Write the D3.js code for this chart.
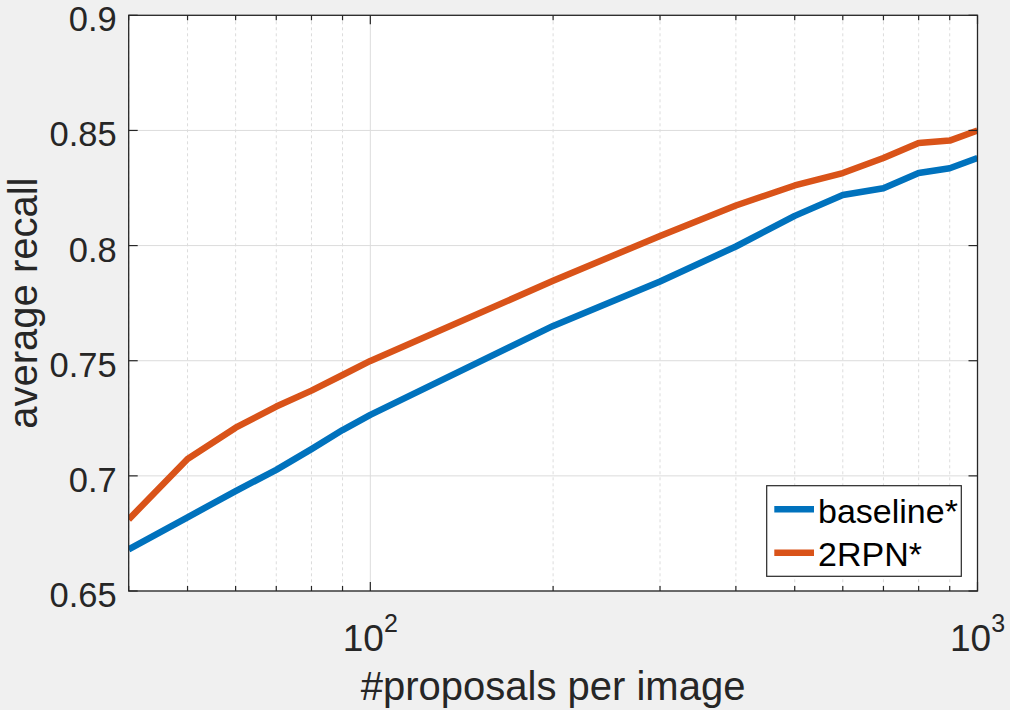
<!DOCTYPE html>
<html>
<head>
<meta charset="utf-8">
<script src="https://cdn.jsdelivr.net/npm/d3@7"></script>
<style>
  html, body { margin: 0; padding: 0; background: #f0f0f0; }
  svg { display: block; font-family: "Liberation Sans", Arial, sans-serif; }
</style>
</head>
<body>
<svg id="chart" width="1010" height="710"></svg>
<script>
const proposals = [40, 50, 60, 70, 80, 90, 100, 200, 300, 400, 500, 600, 700, 800, 900, 1000];
const baseline = [0.6681, 0.6820, 0.6934, 0.7026, 0.7116, 0.7199, 0.7265, 0.7651, 0.7844, 0.7996, 0.8129, 0.8220, 0.8249, 0.8315, 0.8336, 0.8380];
const rpn2 = [0.6811, 0.7073, 0.7209, 0.7301, 0.7370, 0.7438, 0.7499, 0.7847, 0.8042, 0.8174, 0.8261, 0.8315, 0.8380, 0.8445, 0.8456, 0.8500];
const seriesNames = ["baseline*", "2RPN*"];
const seriesColors = ["#0072BD", "#D95319"];
const yTicks = [0.65, 0.7, 0.75, 0.8, 0.85, 0.9];
const xMajorTicks = [100, 1000];
const xMinorTicks = [40, 50, 60, 70, 80, 90, 200, 300, 400, 500, 600, 700, 800, 900];
const xLabel = "#proposals per image";
const yLabel = "average recall";

const W = 1010, H = 710;
const L = 128.7, R = 977.5, T = 15.3, B = 591;
const axisColor = "#262626";

const svg = d3.select("#chart");
svg.append("rect").attr("width", W).attr("height", H).attr("fill", "#f0f0f0");

const x = d3.scaleLog().domain([40, 1000]).range([L, R]);
const y = d3.scaleLinear().domain([0.65, 0.9]).range([B, T]);

// plot background
svg.append("rect").attr("x", L).attr("y", T).attr("width", R - L).attr("height", B - T).attr("fill", "#ffffff");

// minor x grid (dotted)
svg.append("g").selectAll("line").data(xMinorTicks).join("line")
  .attr("x1", d => x(d)).attr("x2", d => x(d))
  .attr("y1", T).attr("y2", B)
  .attr("stroke", "#dcdcdc").attr("stroke-width", 1).attr("stroke-dasharray", "3,3");

// major grid
svg.append("g").selectAll("line").data(xMajorTicks).join("line")
  .attr("x1", d => x(d)).attr("x2", d => x(d))
  .attr("y1", T).attr("y2", B)
  .attr("stroke", "#dcdcdc").attr("stroke-width", 1);
svg.append("g").selectAll("line").data(yTicks).join("line")
  .attr("x1", L).attr("x2", R)
  .attr("y1", d => y(d)).attr("y2", d => y(d))
  .attr("stroke", "#dcdcdc").attr("stroke-width", 1);

// lines
const clipId = "plotclip";
svg.append("clipPath").attr("id", clipId).append("rect")
  .attr("x", L).attr("y", T).attr("width", R - L).attr("height", B - T);

const line = d3.line().x(d => x(d[0])).y(d => y(d[1]));
const allSeries = [baseline, rpn2];
const gLines = svg.append("g").attr("clip-path", `url(#${clipId})`);
allSeries.forEach((s, i) => {
  gLines.append("path")
    .datum(proposals.map((p, j) => [p, s[j]]))
    .attr("d", line)
    .attr("fill", "none")
    .attr("stroke", seriesColors[i])
    .attr("stroke-width", 6.5)
    .attr("stroke-linejoin", "round");
});

// axes box
svg.append("rect").attr("x", L).attr("y", T).attr("width", R - L).attr("height", B - T)
  .attr("fill", "none").attr("stroke", axisColor).attr("stroke-width", 1.3);

// ticks
const tk = svg.append("g").attr("stroke", axisColor).attr("stroke-width", 1.2);
yTicks.forEach(v => {
  tk.append("line").attr("x1", L).attr("x2", L + 9).attr("y1", y(v)).attr("y2", y(v));
  tk.append("line").attr("x1", R).attr("x2", R - 9).attr("y1", y(v)).attr("y2", y(v));
});
xMajorTicks.forEach(v => {
  tk.append("line").attr("x1", x(v)).attr("x2", x(v)).attr("y1", B).attr("y2", B - 9);
  tk.append("line").attr("x1", x(v)).attr("x2", x(v)).attr("y1", T).attr("y2", T + 9);
});
xMinorTicks.forEach(v => {
  tk.append("line").attr("x1", x(v)).attr("x2", x(v)).attr("y1", B).attr("y2", B - 5);
  tk.append("line").attr("x1", x(v)).attr("x2", x(v)).attr("y1", T).attr("y2", T + 5);
});

// y tick labels
svg.append("g").selectAll("text").data(yTicks).join("text")
  .attr("x", L - 12).attr("y", d => y(d) + 16)
  .attr("text-anchor", "end")
  .attr("font-size", 34.5).attr("fill", axisColor)
  .text(d => d3.format("")(+d.toFixed(2)));

// x tick labels 10^n
xMajorTicks.forEach(v => {
  const exp = Math.round(Math.log10(v));
  const t = svg.append("text")
    .attr("x", x(v)).attr("y", 651)
    .attr("text-anchor", "middle")
    .attr("fill", axisColor).attr("font-size", 37);
  t.append("tspan").text("10");
  t.append("tspan").attr("font-size", 25).attr("dy", -19).text(String(exp));
});

// axis labels
svg.append("text")
  .attr("x", (L + R) / 2).attr("y", 700)
  .attr("text-anchor", "middle")
  .attr("font-size", 40).attr("fill", axisColor)
  .text(xLabel);
svg.append("text")
  .attr("transform", `translate(36.5,${(T + B) / 2}) rotate(-90)`)
  .attr("text-anchor", "middle")
  .attr("font-size", 40).attr("fill", axisColor)
  .text(yLabel);

// legend
const lg = svg.append("g");
lg.append("rect").attr("x", 766.7).attr("y", 485.7).attr("width", 194.6).attr("height", 90.6)
  .attr("fill", "#ffffff").attr("stroke", axisColor).attr("stroke-width", 1.2);
seriesNames.forEach((n, i) => {
  const cy = 509.3 + i * 43.4;
  lg.append("line").attr("x1", 774.3).attr("x2", 814).attr("y1", cy).attr("y2", cy)
    .attr("stroke", seriesColors[i]).attr("stroke-width", 6.5);
  lg.append("text").attr("x", 818).attr("y", cy + 13.4)
    .attr("font-size", 34).attr("fill", "#000000").text(n);
});
</script>
</body>
</html>
